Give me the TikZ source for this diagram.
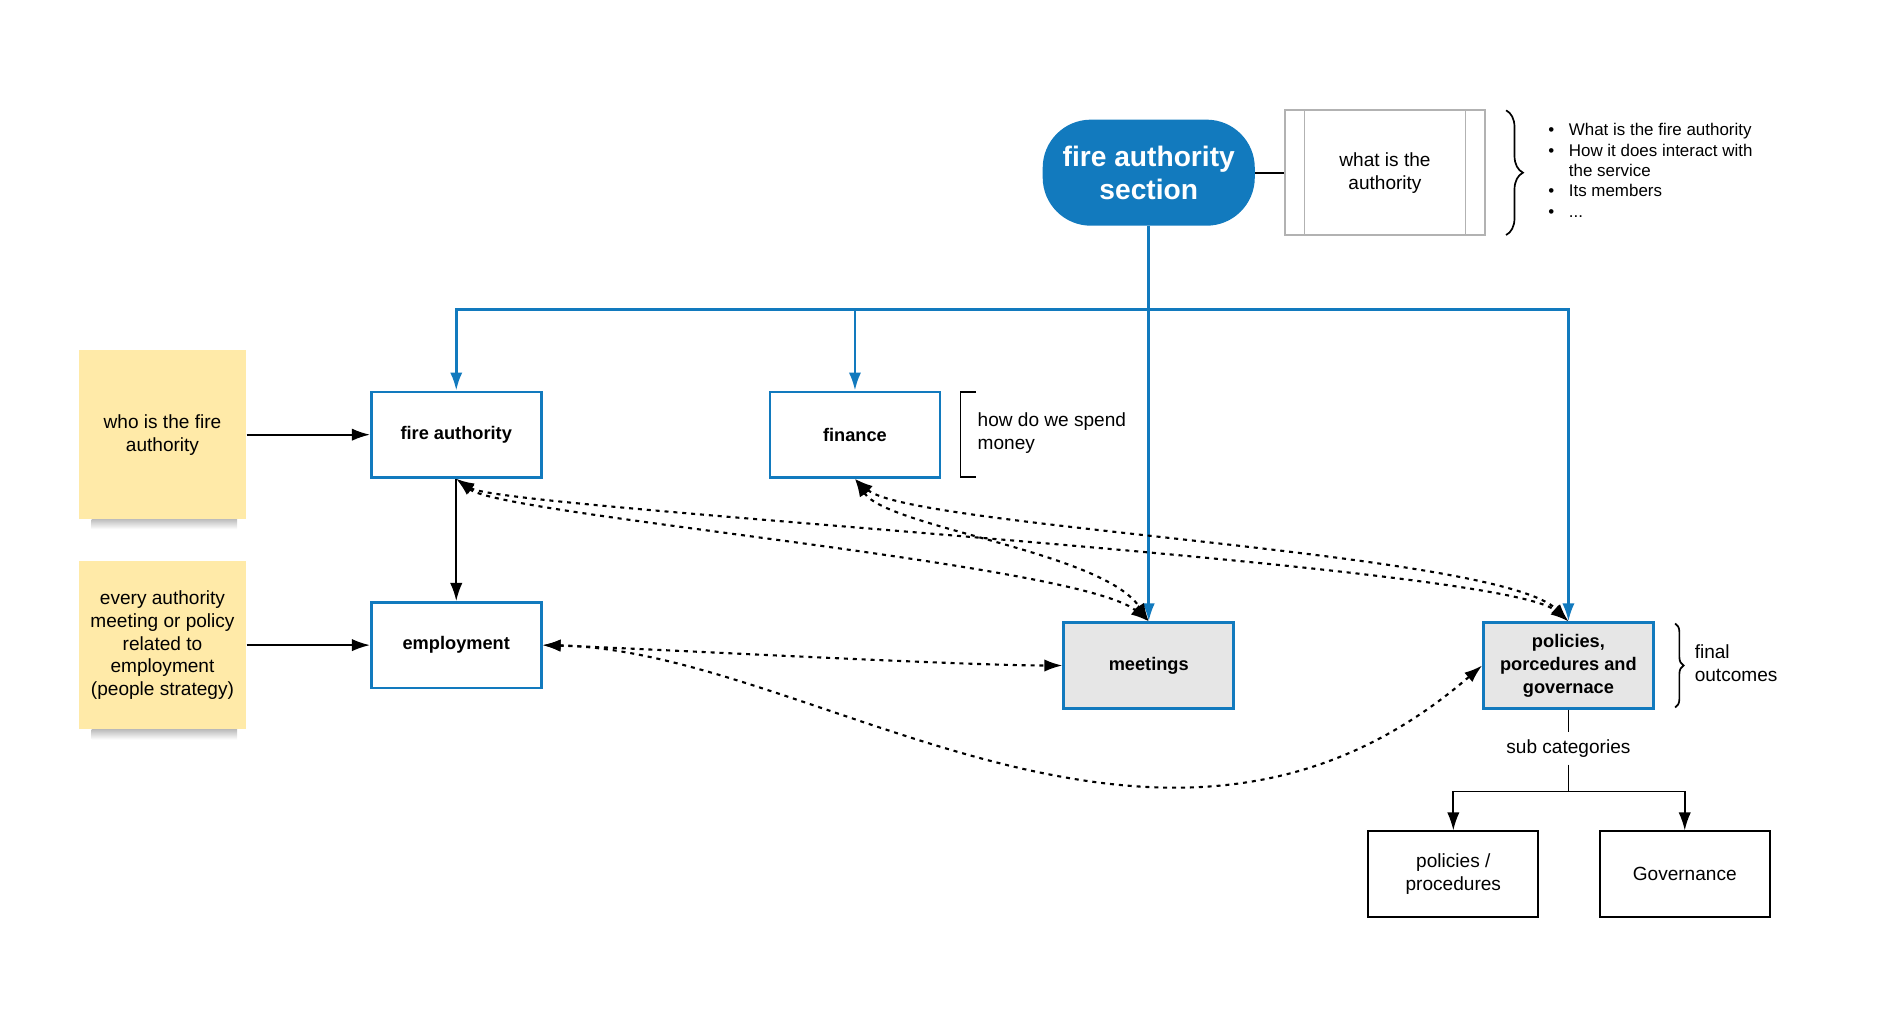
\documentclass[tikz,border=0pt]{standalone}
\usepackage{fontspec}
\setmainfont{Liberation Sans}
\usetikzlibrary{positioning,arrows.meta,decorations.pathreplacing}
\definecolor{fireblue}{RGB}{18,122,190}
\definecolor{notegold}{RGB}{255,234,168}
\definecolor{boxgrey}{RGB}{230,230,230}
\definecolor{framegrey}{RGB}{178,178,178}
\tikzstyle{block} = [rectangle, draw=fireblue, line width=1.3pt, fill=white, text centered, align=center, minimum width=2.82cm, minimum height=1.42cm, font=\fontsize{8.6}{10.8}\selectfont\bfseries]
\tikzstyle{greyblock} = [block, fill=boxgrey]
\tikzstyle{subblock} = [rectangle, draw, line width=0.9pt, align=center, minimum width=2.82cm, minimum height=1.42cm]
\tikzstyle{note} = [rectangle, fill=notegold, align=center, minimum width=2.78cm, minimum height=2.8cm]
\tikzstyle{noteshadow} = [top color=black!25, middle color=black!42, bottom color=white]
\tikzstyle{section} = [rectangle, rounded corners=0.8cm, fill=fireblue, text=white, align=center, minimum width=3.52cm, minimum height=1.76cm, font=\fontsize{13.3}{15.8}\selectfont\bfseries]
\tikzstyle{line} = [draw, line width=0.8pt, -{Latex[length=8.5pt,width=5.8pt]}]
\tikzstyle{blueline} = [draw=fireblue, line width=1.2pt, -{Latex[length=8.5pt,width=5.8pt]}]
\tikzstyle{link} = [draw, line width=1pt, dash pattern=on 1.9pt off 2.3pt, {Latex[length=8.5pt,width=5.8pt]}-{Latex[length=8.5pt,width=5.8pt]}]

\begin{document}
\begin{tikzpicture}[x=0.995cm, y=0.995cm, font=\fontsize{9}{10.8}\selectfont]
	\useasboundingbox (0,0) rectangle (31.357,-16.905);
	\node [section] (section) at (19.16,-2.88) {fire authority\\section};
	\node [rectangle, draw=framegrey, line width=0.9pt, align=center, minimum width=3.32cm, minimum height=2.08cm] (whatis) at (23.1,-2.88) {what is the\\authority};
	\draw [framegrey, line width=0.9pt] ([xshift=0.34cm]whatis.north west) -- ([xshift=0.34cm]whatis.south west);
	\draw [framegrey, line width=0.9pt] ([xshift=-0.34cm]whatis.north east) -- ([xshift=-0.34cm]whatis.south east);
	\draw [line width=0.8pt, decorate, decoration={brace, amplitude=0.28cm}] (25.12,-1.84) -- (25.12,-3.92);
	\node [anchor=north west, inner sep=0pt, font=\fontsize{8}{9.6}\selectfont] (points) at (25.82,-2.02) {\begin{tabular}{@{}l@{\hspace{0.24cm}}l@{}}
		\textbullet & What is the fire authority\\
		\textbullet & How it does interact with\\
		& the service\\
		\textbullet & Its members\\
		\textbullet & ...
	\end{tabular}};
	
	\coordinate (split) at (19.16,-5.16);
	\node [block] (fa) at (7.61,-7.25) {fire authority};
	\node [block] (finance) at (14.26,-7.25) {finance};
	\node [block] (employment) at (7.61,-10.76) {employment};
	\node [greyblock] (meetings) at (19.16,-11.1) {meetings};
	\node [greyblock] (policies) at (26.16,-11.1) {policies,\\porcedures and\\governace};
	\node [note] (who) at (2.71,-7.25) {who is the fire\\authority};
	\node [note] (every) at (2.71,-10.76) {every authority\\meeting or policy\\related to\\employment\\(people strategy)};
	\shade [noteshadow] ([xshift=0.22cm]who.south west) rectangle ([xshift=-0.16cm,yshift=-0.16cm]who.south east);
	\shade [noteshadow] ([xshift=0.22cm]every.south west) rectangle ([xshift=-0.16cm,yshift=-0.16cm]every.south east);
	
	\draw [line width=0.8pt] (16.28,-6.54) -- (16.02,-6.54) -- (16.02,-7.96) -- (16.28,-7.96);
	\node [anchor=west, inner sep=0pt, align=left] (money) at (16.3,-7.22) {how do we spend\\money};
	\draw [line width=0.8pt, decorate, decoration={brace, amplitude=0.14cm}] (27.94,-10.4) -- (27.94,-11.8);
	\node [anchor=west, inner sep=0pt, align=left] (outcomes) at (28.26,-11.06) {final\\outcomes};
	
	\node (subcat) at (26.16,-12.48) {sub categories};
	\coordinate (subsplit) at (26.16,-13.2);
	\node [subblock] (pp) at (24.24,-14.58) {policies /\\procedures};
	\node [subblock] (gov) at (28.1,-14.58) {Governance};
	
	\draw [line width=0.8pt] (section) -- (whatis);
	\path[blueline] (section) -- (meetings);
	\path[blueline] (split) -| (fa);
	\path[blueline] (split) -| (finance);
	\path[blueline] (split) -| (policies);
	\path[line] (who) -- (fa);
	\path[line] (every) -- (employment);
	\path[line] (fa) -- (employment);
	\draw [line width=0.8pt] (policies) -- (subcat);
	\draw [line width=0.8pt] (subcat) -- (subsplit);
	\path[line] (subsplit) -| (pp);
	\path[line] (subsplit) -| (gov);
	
	\path[link] (fa.south) .. controls (8.4,-8.6) and (18,-9.4) .. (meetings.north);
	\path[link] (fa.south) .. controls (8.4,-8.5) and (25,-9.4) .. (policies.north);
	\path[link] (finance.south) .. controls (14.8,-8.8) and (18.4,-9.2) .. (meetings.north);
	\path[link] (finance.south) .. controls (15.2,-8.8) and (25,-9.2) .. (policies.north);
	\path[link] (employment.east) .. controls (10.4,-10.8) and (16,-11.1) .. (meetings.west);
	\path[link] (employment.east) .. controls (13.6,-10.85) and (19.4,-15.7) .. (policies.west);
\end{tikzpicture}
\end{document}
